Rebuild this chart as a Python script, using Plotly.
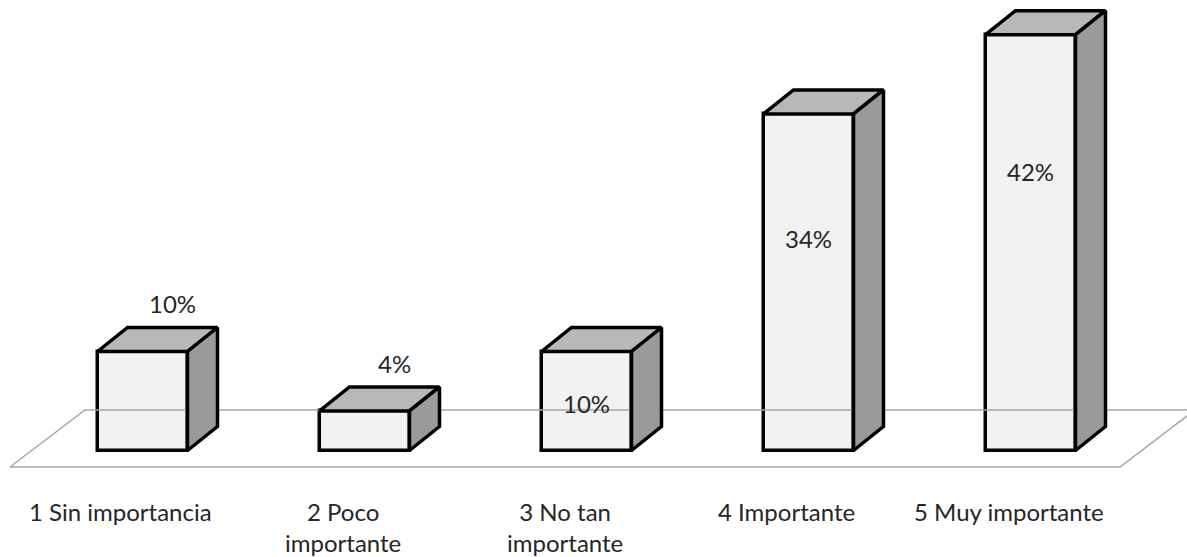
import plotly.graph_objects as go

# ---------------- data ----------------
categories = ["1 Sin importancia", "2 Poco<br>importante", "3 No tan<br>importante",
              "4 Importante", "5 Muy importante"]
values = [10, 4, 10, 34, 42]
value_labels = ["10%", "4%", "10%", "34%", "42%"]

# ---------------- style / geometry ----------------
W, H = 1187, 557
PX_X = 222.0            # pixels per category
PX_Y = 9.9              # pixels per percentage point
X0_PX = 142.5           # pixel of first bar centre
Y0_PX = 450.5           # pixel of value 0
BAR_W = 90 / PX_X
DX = 30 / PX_X          # depth offset (x)
DY = 24 / PX_Y          # depth offset (y)
FLOOR_FRONT_Y = -(467 - Y0_PX) / PX_Y
FLOOR_BACK_Y = (Y0_PX - 410) / PX_Y
FLOOR_SHIFT = -0.097    # front edge of floor relative to bar centres
FLOOR_DX = 75 / PX_X
LABEL_TOP_Y = -(495 - Y0_PX) / PX_Y
label_inside_frac = [None, None, 0.475, 0.63, 0.67]
ABOVE_GAP = 2.4

FRONT = "#F2F2F2"
TOP = "#B8B8B8"
SIDE = "#9A9A9A"
EDGE = "#000000"
FLOOR = "#A6A6A6"
FONT = dict(family="Lato", size=24, color="#262626")

x_range = [-X0_PX / PX_X, (W - X0_PX) / PX_X]
y_range = [-(H - Y0_PX) / PX_Y, Y0_PX / PX_Y]

n = len(values)
xs = list(range(n))

fig = go.Figure()

# floor parallelogram
fl = -0.5 + FLOOR_SHIFT
fr = n - 0.5 + FLOOR_SHIFT
fig.add_trace(go.Scatter(
    x=[fl, fr, fr + FLOOR_DX, fl + FLOOR_DX, fl],
    y=[FLOOR_FRONT_Y, FLOOR_FRONT_Y, FLOOR_BACK_Y, FLOOR_BACK_Y, FLOOR_FRONT_Y],
    mode="lines", line=dict(color=FLOOR, width=1.5), hoverinfo="skip", showlegend=False))

# top and side faces
for i, v in enumerate(values):
    l, r = i - BAR_W / 2, i + BAR_W / 2
    fig.add_trace(go.Scatter(
        x=[l, r, r + DX, l + DX, l], y=[v, v, v + DY, v + DY, v],
        fill="toself", fillcolor=TOP, mode="lines",
        line=dict(color=EDGE, width=3.5), hoverinfo="skip", showlegend=False))
    fig.add_trace(go.Scatter(
        x=[r, r + DX, r + DX, r, r], y=[0, DY, v + DY, v, 0],
        fill="toself", fillcolor=SIDE, mode="lines",
        line=dict(color=EDGE, width=3.5), hoverinfo="skip", showlegend=False))

# front faces
fig.add_trace(go.Bar(
    x=xs, y=values, width=BAR_W, base=0,
    marker=dict(color=FRONT, line=dict(color=EDGE, width=3.5)),
    hoverinfo="skip", showlegend=False))

# value labels
for i, (v, t) in enumerate(zip(values, value_labels)):
    frac = label_inside_frac[i]
    if frac is None:
        fig.add_annotation(x=i + DX, y=v + DY + ABOVE_GAP, text=t, showarrow=False,
                           font=FONT, xanchor="center", yanchor="middle")
    else:
        fig.add_annotation(x=i, y=v * frac, text=t, showarrow=False,
                           font=FONT, xanchor="center", yanchor="middle")

# category labels
for i, c in enumerate(categories):
    fig.add_annotation(x=i + FLOOR_SHIFT, y=LABEL_TOP_Y, text=c, showarrow=False,
                       font=FONT, xanchor="center", yanchor="top")

fig.update_layout(
    width=W, height=H, margin=dict(l=0, r=0, t=0, b=0),
    paper_bgcolor="white", plot_bgcolor="white",
    xaxis=dict(range=x_range, visible=False, fixedrange=True),
    yaxis=dict(range=y_range, visible=False, fixedrange=True),
    bargap=0,
)

fig.write_html("out.html")
